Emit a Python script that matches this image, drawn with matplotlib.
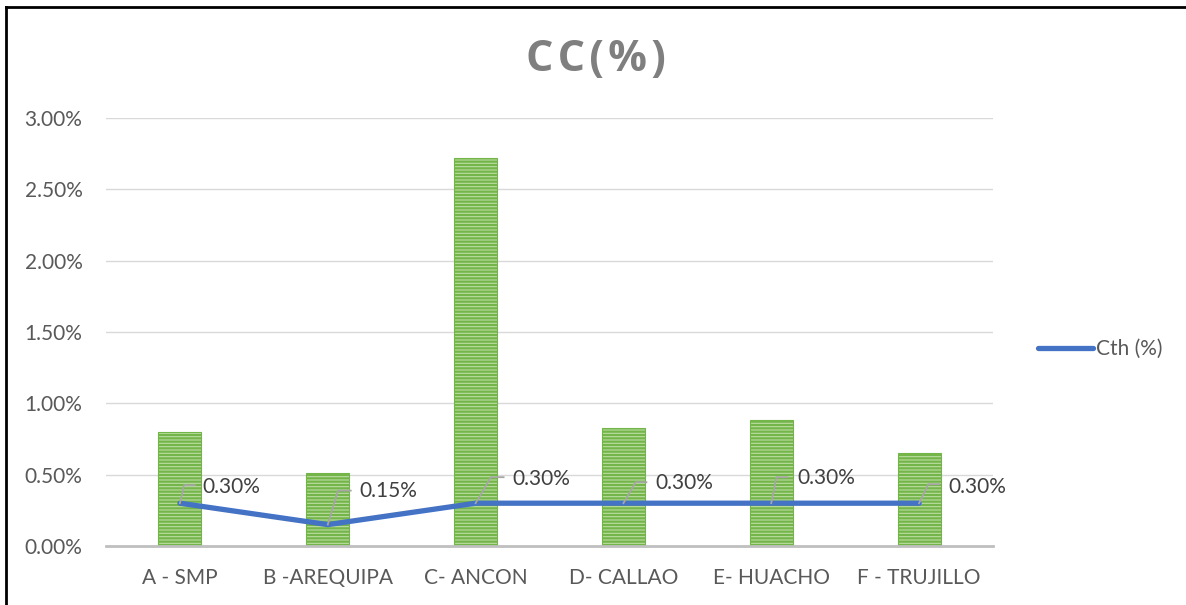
import matplotlib
matplotlib.use("Agg")
import matplotlib.pyplot as plt
from matplotlib.lines import Line2D
from matplotlib.ticker import FuncFormatter
import numpy as np

# Sites and measured values (%)
sites = ["A - SMP", "B -AREQUIPA", "C- ANCON", "D- CALLAO", "E- HUACHO", "F - TRUJILLO"]
cc_values = [0.80, 0.51, 2.72, 0.83, 0.88, 0.65]
cth_values = [0.30, 0.15, 0.30, 0.30, 0.30, 0.30]
cth_labels = ["0.30%", "0.15%", "0.30%", "0.30%", "0.30%", "0.30%"]
y_ticks = [0.0, 0.5, 1.0, 1.5, 2.0, 2.5, 3.0]

# Leader line geometry per label, in pixels: (knee dx, knee dy, end dx, text dx, text dy)
leader_offsets = [(4, 18, 15, 22, 16), (10, 34, 23, 32, 34), (15, 26, 28, 37, 24),
                  (12, 21, 23, 32, 20), (5, 26, 16, 26, 25), (9, 19, 20, 29, 16)]

W, H = 1186, 605
fig = plt.figure(figsize=(W / 100, H / 100), dpi=100)
fig.patch.set_facecolor("white")
plt.rcParams["font.family"] = ["Lato", "DejaVu Sans"]
plt.rcParams["hatch.linewidth"] = 1.6

left, right, bottom, top = 106, 993, 546, 118
ax = fig.add_axes([left / W, 1 - bottom / H, (right - left) / W, (bottom - top) / H])

x = np.arange(len(sites))
ax.bar(x, cc_values, width=0.29, color="#bcdda2", edgecolor="#74b54a",
       hatch="-----", linewidth=0.8, zorder=2)
line, = ax.plot(x, cth_values, color="#4472c4", linewidth=3.8,
                solid_capstyle="round", zorder=3, label="Cth (%)")

ax.set_xlim(-0.5, len(sites) - 0.5)
ax.set_ylim(0, 3.0)
ax.set_yticks(y_ticks)
ax.yaxis.set_major_formatter(FuncFormatter(lambda v, p: f"{v:.2f}%"))
ax.set_xticks(x)
ax.set_xticklabels(sites)
ax.tick_params(axis="both", length=0, labelsize=15, labelcolor="#595959")
ax.tick_params(axis="y", pad=17)
ax.tick_params(axis="x", pad=16)
ax.grid(axis="y", color="#d9d9d9", linewidth=1.0, zorder=0)
ax.set_axisbelow(True)
for s in ["top", "right", "left"]:
    ax.spines[s].set_visible(False)
ax.spines["bottom"].set_color("#bfbfbf")
ax.spines["bottom"].set_linewidth(2.0)
ax.spines["bottom"].set_zorder(4)

# Data labels with leader lines
fig.canvas.draw()
to_disp = ax.transData
to_data = ax.transData.inverted()
for xi, yi, lab, (kdx, kdy, edx, tdx, tdy) in zip(x, cth_values, cth_labels, leader_offsets):
    px, py = to_disp.transform((xi, yi))
    pts = to_data.transform([(px, py), (px + kdx, py + kdy), (px + edx, py + kdy)])
    ax.plot(pts[:, 0], pts[:, 1], color="#a6a6a6", linewidth=1.3, zorder=4)
    tx, ty = to_data.transform((px + tdx, py + tdy))
    ax.text(tx, ty, lab, fontsize=15, color="#404040", ha="left", va="center", zorder=5)

# Title, letter-spaced with hair spaces
fig.text(596 / W, 1 - 59 / H, "\u200a".join("CC(%)"), fontsize=31, fontweight="bold",
         color="#7f7f7f", ha="center", va="center", family=["Open Sans", "DejaVu Sans"])

# Legend
fig.legend(handles=[line], labels=["Cth (%)"], loc="center left",
           bbox_to_anchor=(1030 / W, 1 - 349 / H), frameon=False, fontsize=15,
           labelcolor="#595959", handlelength=2.6, handletextpad=0.15,
           borderaxespad=0)

# Frame around the chart
fig.add_artist(Line2D([6 / W, 6 / W], [0, 1 - 7 / H], color="black", linewidth=2.0,
                      transform=fig.transFigure))
fig.add_artist(Line2D([6 / W, 1], [1 - 7 / H, 1 - 7 / H], color="black", linewidth=2.0,
                      transform=fig.transFigure))

fig.savefig("out.png", dpi=100, facecolor="white")
